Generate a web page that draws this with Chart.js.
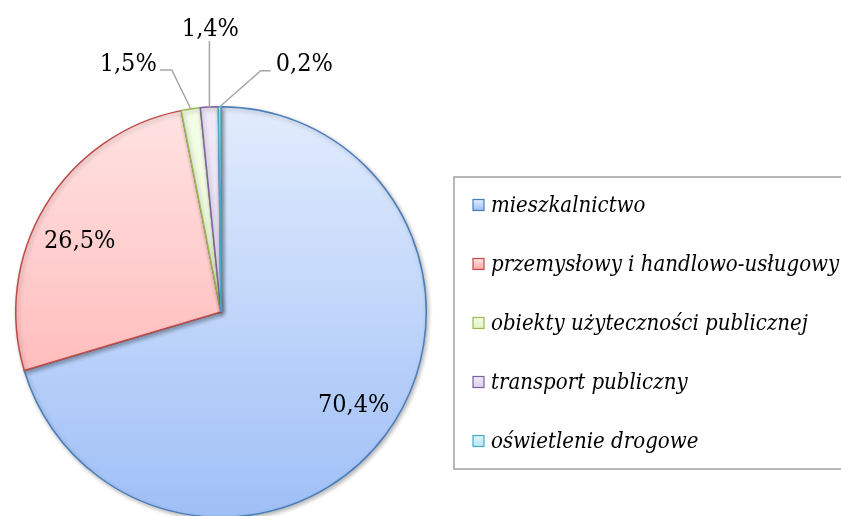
<!DOCTYPE html>
<html><head><meta charset="utf-8">
<script src="https://cdn.jsdelivr.net/npm/chart.js@4/dist/chart.umd.min.js"></script>
<style>
html,body{margin:0;padding:0;background:#fff;overflow:hidden;width:841px;height:516px;}
#wrap{position:absolute;left:0;top:0;width:900px;height:560px;}
</style></head>
<body><div id="wrap"><canvas id="c" width="900" height="560"></canvas></div>
<script>
const categories = ['mieszkalnictwo','przemysłowy i handlowo-usługowy','obiekty użyteczności publicznej','transport publiczny','oświetlenie drogowe'];
const shares = [70.4, 26.5, 1.5, 1.4, 0.2];
const shareLabels = ['70,4%','26,5%','1,5%','1,4%','0,2%'];
const borderColors = ['#4a7ebb','#be4b48','#98b954','#7d60a0','#46aac5'];
const topColors = ['#e2ecfd','#ffe3e3','#f4fde8','#efe9f7','#ddf3fa'];
const bottomColors = ['#9ebff6','#ffa8a8','#e0f6c0','#ddd2ee','#b8e6f4'];

const labelFont = '25px "DejaVu Serif Condensed", "Liberation Serif"';
const legendFont = 'italic 22px "DejaVu Serif Condensed", "Liberation Serif"';

function grad(ctx, i){
  const chart = ctx.chart;
  const a = chart.chartArea;
  if(!a) return topColors[i];
  const g = chart.ctx.createLinearGradient(0, a.top, 0, a.bottom);
  g.addColorStop(0, topColors[i]);
  g.addColorStop(1, bottomColors[i]);
  return g;
}

const insideNudge = {0: [6, -1], 1: [-6, 11]};

const labelPlugin = {
  id: 'labels',
  afterDatasetsDraw(chart){
    const ctx = chart.ctx;
    const meta = chart.getDatasetMeta(0);
    ctx.save();
    ctx.font = labelFont;
    ctx.fillStyle = '#000';
    ctx.textBaseline = 'middle';
    meta.data.forEach((arc, i) => {
      const p = arc.getProps(['x','y','startAngle','endAngle','outerRadius']);
      const mid = (p.startAngle + p.endAngle) / 2;
      if (shares[i] > 5) {
        const r = p.outerRadius * 0.77;
        const n = insideNudge[i] || [0, 0];
        ctx.textAlign = 'center';
        ctx.fillText(shareLabels[i], p.x + Math.cos(mid) * r + n[0], p.y + Math.sin(mid) * r + n[1]);
      } else {
        const ex = p.x + Math.cos(mid) * p.outerRadius;
        const ey = p.y + Math.sin(mid) * p.outerRadius;
        ctx.strokeStyle = '#a6a6a6';
        ctx.lineWidth = 1.5;
        ctx.beginPath();
        ctx.moveTo(ex, ey);
        let tx, ty;
        if (i === 2) {
          ctx.lineTo(ex - 19, ey - 39);
          ctx.lineTo(ex - 31, ey - 39);
          ctx.textAlign = 'right';
          tx = ex - 34; ty = ey - 44;
        } else if (i === 3) {
          ctx.lineTo(ex, ey - 66);
          ctx.textAlign = 'center';
          tx = ex + 1; ty = ey - 78;
        } else {
          ctx.lineTo(ex + 41, ey - 36);
          ctx.lineTo(ex + 51, ey - 36);
          ctx.textAlign = 'left';
          tx = ex + 56; ty = ey - 42;
        }
        ctx.stroke();
        ctx.fillText(shareLabels[i], tx, ty);
      }
    });
    ctx.restore();
  }
};

const legendPlugin = {
  id: 'boxLegend',
  afterDraw(chart){
    const ctx = chart.ctx;
    const bx = 454, by = 177, bw = 460, bh = 292;
    ctx.save();
    ctx.strokeStyle = '#a0a0a0';
    ctx.lineWidth = 1.5;
    ctx.strokeRect(bx, by, bw, bh);
    ctx.font = legendFont;
    ctx.textBaseline = 'middle';
    ctx.textAlign = 'left';
    chart.data.labels.forEach((lab, i) => {
      const cy = 205 + i * 59;
      const g = ctx.createLinearGradient(0, cy - 5, 0, cy + 5);
      g.addColorStop(0, topColors[i]);
      g.addColorStop(1, bottomColors[i]);
      ctx.fillStyle = g;
      ctx.fillRect(473, cy - 5.5, 11, 11);
      ctx.strokeStyle = borderColors[i];
      ctx.lineWidth = 1.2;
      ctx.strokeRect(473, cy - 5.5, 11, 11);
      ctx.fillStyle = '#000';
      ctx.fillText(lab, 491, cy + 1);
    });
    ctx.restore();
  }
};

const shadowPlugin = {
  id: 'shadow',
  beforeDatasetsDraw(chart){
    const ctx = chart.ctx;
    ctx.save();
    ctx.shadowColor = 'rgba(0,0,0,0.28)';
    ctx.shadowBlur = 4;
    ctx.shadowOffsetX = 1.5;
    ctx.shadowOffsetY = 2;
  },
  afterDatasetsDraw(chart){
    chart.ctx.restore();
  }
};

new Chart(document.getElementById('c'), {
  type: 'pie',
  data: {
    labels: categories,
    datasets: [{
      data: shares,
      backgroundColor: (ctx) => grad(ctx, ctx.dataIndex),
      borderColor: borderColors,
      borderWidth: 1.5,
      borderJoinStyle: 'miter',
      offset: 0
    }]
  },
  options: {
    responsive: false,
    animation: false,
    layout: { padding: { top: 106, left: 15, bottom: 42, right: 473 } },
    plugins: { legend: { display: false }, tooltip: { enabled: false } }
  },
  plugins: [shadowPlugin, labelPlugin, legendPlugin]
});
</script>
</body></html>
